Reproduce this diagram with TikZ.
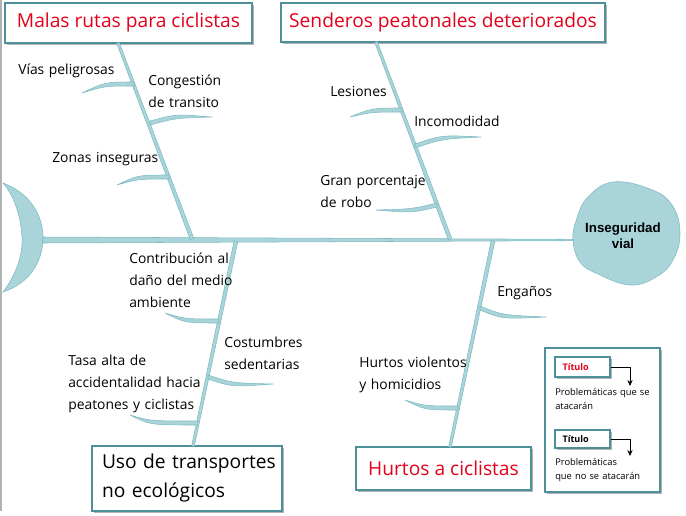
\documentclass[tikz,border=0pt]{standalone}
\usepackage{fontspec}
\setmainfont{Open Sans}
\newfontfamily\headfont{Liberation Sans}
\usetikzlibrary{calc,shadows,arrows.meta}
\definecolor{bonefill}{HTML}{A9D5DA}
\definecolor{boneedge}{HTML}{7DBAC1}
\definecolor{boxedge}{HTML}{4E9099}
\definecolor{titred}{HTML}{E3001B}
\tikzset{
  box/.style={draw=boxedge, line width=1.2pt, fill=white, inner sep=0pt,
    drop shadow={shadow xshift=1.5pt, shadow yshift=-1.5pt, fill=black!30, opacity=1}},
  titletext/.style={font=\fontsize{14.4}{21.75}\selectfont},
  lbl/.style={anchor=base west, inner sep=0pt, text width=140pt, align=left,
    font=\fontsize{10.4}{16.5}\selectfont},
  leg/.style={anchor=base west, inner sep=0pt, text width=80pt, align=left,
    font=\fontsize{7}{11}\selectfont},
  bonest/.style={fill=bonefill, draw=boneedge, line width=0.4pt},
}
\newcommand\twig[4]{%
  \filldraw[bonest] (#1) .. controls ($(#3)+(0,-#4)$) .. ($(#2)+(0,-#4)$)
    -- ($(#2)+(0,#4)$) .. controls ($(#3)+(0,#4)$) .. (#1) -- cycle;}
\newcommand\bone[4]{%
  \filldraw[bonest] ($(#1)!#3!90:(#2)$) -- ($(#2)!#4!-90:(#1)$)
    -- ($(#2)!#4!90:(#1)$) -- ($(#1)!#3!-90:(#2)$) -- cycle;}
\begin{document}
\begin{tikzpicture}[x=0.75pt,y=-0.75pt]
\useasboundingbox (0,0) rectangle (686,515);
\fill[white] (0,0) rectangle (686,515);
\draw[black!30, line width=1.2pt] (1,0) -- (1,511);

% boxes
\node[box, minimum width=185.25pt, minimum height=30pt, titletext] (t1) at (128.5,23) {\color{titred}Malas rutas para ciclistas};
\node[box, minimum width=243pt, minimum height=29.25pt, titletext] (t2) at (443,22.5) {\color{titred}Senderos peatonales deteriorados};
\node[box, minimum width=142.5pt, minimum height=48.75pt, text width=142.5pt, align=left, titletext] (b1) at (187,478.5) {\hspace*{7.5pt}Uso de transportes\\\hspace*{7.5pt}no ecológicos};
\node[box, minimum width=131.25pt, minimum height=32.25pt, titletext] (b2) at (443.5,468.5) {\color{titred}Hurtos a ciclistas};

% tail and head
\filldraw[bonest] (3,183) .. controls (35,195) and (44,222) .. (43,240)
  .. controls (42,262) and (30,283) .. (3,292)
  .. controls (18,272) and (23,252) .. (22,237)
  .. controls (21,220) and (16,198) .. (3,183) -- cycle;
\filldraw[bonest] plot[smooth cycle, tension=0.7] coordinates {(573,240) (577,218) (588,197) (613,182) (650,189) (672,205) (680,233) (673,260) (656,277) (630,285) (598,274) (580,262)};
\node[font=\headfont\bfseries\fontsize{10}{12}\selectfont, align=center] (head) at (623,236) {Inseguridad\\vial};

% spine and bones
\coordinate (sL) at (43,240);
\coordinate (sR) at (573,240);
\filldraw[bonest] (43,237) -- (573,239.3) -- (573,240.7) -- (43,243) -- cycle;
\coordinate (a1) at (118,43);  \coordinate (e1) at (192,239);
\coordinate (a2) at (376,42);  \coordinate (e2) at (450,239);
\coordinate (a3) at (236,241); \coordinate (e3) at (193,446);
\coordinate (a4) at (493,241); \coordinate (e4) at (450,447);
\bone{a1}{e1}{1pt}{1.4pt}
\bone{a2}{e2}{1pt}{1.4pt}
\bone{a3}{e3}{1.4pt}{1pt}
\bone{a4}{e4}{1.4pt}{1pt}

% twigs
\twig{82,93}{134,84}{105,84}{2}
\twig{212,117}{150,123}{176,116}{2}
\twig{117,185}{169,177}{138,177}{2}
\twig{350,117}{402,110}{372,110}{2}
\twig{481,137}{415,146}{442,137}{2}
\twig{376,210}{437,205}{412,211}{2}
\twig{165,313}{219,321}{185,321}{2}
\twig{273,384}{208,377}{232,385}{2}
\twig{130,415}{198,423}{150,423}{2}
\twig{546,317}{480,308}{502,317}{2}
\twig{405,400}{458,408}{425,408}{2}

% labels
\node[lbl] (l1) at (18,74) {Vías peligrosas};
\node[lbl] (l2) at (148,85) {Congestión\\de transito};
\node[lbl] (l3) at (52,162) {Zonas inseguras};
\node[lbl] (l4) at (330,96) {Lesiones};
\node[lbl] (l5) at (414,126) {Incomodidad};
\node[lbl] (l6) at (320,185) {Gran porcentaje\\de robo};
\node[lbl] (l7) at (129,263) {Contribución al\\daño del medio\\ambiente};
\node[lbl] (l8) at (224,347) {Costumbres\\sedentarias};
\node[lbl] (l9) at (68,365) {Tasa alta de\\accidentalidad hacia\\peatones y ciclistas};
\node[lbl] (l10) at (497,296) {Engaños};
\node[lbl] (l11) at (359,367) {Hurtos violentos\\y homicidios};

% legend
\node[box, line width=1pt, minimum width=86.25pt, minimum height=108pt] (leg) at (602.5,420) {};
\node[box, line width=1pt, minimum width=41.25pt, minimum height=15pt, text width=35pt, align=left, font=\fontsize{6.8}{8}\selectfont\bfseries] (k1) at (582.5,367) {\hspace*{2.5pt}\color{titred}Título};
\node[box, line width=1pt, minimum width=41.25pt, minimum height=13.5pt, text width=35pt, align=left, font=\fontsize{6.8}{8}\selectfont\bfseries] (k2) at (582.5,439) {\hspace*{2.5pt}Título};
\coordinate (k1t) at (630,386);
\coordinate (k2t) at (630,456);
\draw[line width=0.6pt, -{Stealth[length=4.5pt,width=4pt]}] (k1.east) -| (k1t);
\draw[line width=0.6pt, -{Stealth[length=4.5pt,width=4pt]}] (k2.east) -| (k2t);
\node[leg] (g1) at (555,395) {Problemáticas que se\\atacarán};
\node[leg] (g2) at (555,465) {Problemáticas\\que no se atacarán};
\end{tikzpicture}
\end{document}
